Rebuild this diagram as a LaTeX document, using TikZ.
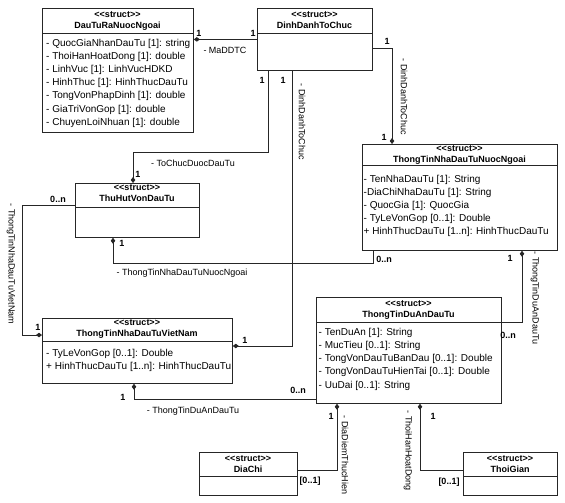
\documentclass[tikz,border=0pt]{standalone}
\usepackage{fontspec}
\setmainfont{Liberation Sans}
\usetikzlibrary{arrows.meta}
\newcommand\stereo{<\kern0pt<struct>\kern0pt>}
\tikzset{
 box/.style={draw=black!85, line width=0.8pt, anchor=north west, inner sep=0pt},
 sep/.style={draw=black!85, line width=0.8pt},
 hdr/.style={font=\bfseries\fontsize{9}{11}\selectfont, align=center, anchor=base, inner sep=0pt},
 attr/.style={font=\fontsize{10}{13.2}\selectfont, align=left, anchor=base west, inner sep=0pt},
 lbl/.style={font=\fontsize{9}{10}\selectfont, inner sep=0pt},
 mult/.style={font=\bfseries\fontsize{9}{10}\selectfont, inner sep=0pt},
 comp/.style={draw=black!85, line width=0.8pt, -{Diamond[length=6pt,width=4.5pt]}},
}
\begin{document}
\begin{tikzpicture}[x=1pt,y=-1pt]
\useasboundingbox (0,0) rectangle (565,503);
% ---------- classes (attribute nodes anchored at the baseline of their last line)
\node[box, minimum width=151pt, minimum height=124pt] (dtr) at (42,8) {};
\draw[sep] ([yshift=-25pt]dtr.north west) -- ([yshift=-25pt]dtr.north east);
\node[hdr] (dtrh) at (117.5,28.3) {\stereo\\DauTuRaNuocNgoai};
\node[attr] (dtra) at (46,125.2) {- QuocGiaNhanDauTu [1]: string\\- ThoiHanHoatDong [1]: double\\- LinhVuc [1]: LinhVucHDKD\\- HinhThuc [1]: HinhThucDauTu\\- TongVonPhapDinh [1]: double\\- GiaTriVonGop [1]: double\\- ChuyenLoiNhuan [1]: double};

\node[box, minimum width=115pt, minimum height=62pt] (dd) at (257,8) {};
\draw[sep] ([yshift=-25pt]dd.north west) -- ([yshift=-25pt]dd.north east);
\node[hdr] (ddh) at (314.5,28.3) {\stereo\\DinhDanhToChuc};

\node[box, minimum width=195pt, minimum height=106pt] (nn) at (362,144) {};
\draw[sep] ([yshift=-21pt]nn.north west) -- ([yshift=-21pt]nn.north east);
\node[hdr] (nnh) at (459.5,162.3) {\stereo\\ThongTinNhaDauTuNuocNgoai};
\node[attr] (nna) at (363.5,234.8) {- TenNhaDauTu [1]: String\\-DiaChiNhaDauTu [1]: String\\- QuocGia [1]: QuocGia\\- TyLeVonGop [0..1]: Double\\+ HinhThucDauTu [1..n]: HinhThucDauTu};

\node[box, minimum width=124pt, minimum height=54pt] (thv) at (75,183) {};
\draw[sep] ([yshift=-24pt]thv.north west) -- ([yshift=-24pt]thv.north east);
\node[hdr] (thvh) at (137,201.3) {\stereo\\ThuHutVonDauTu};

\node[box, minimum width=190pt, minimum height=65pt] (vn) at (42,318) {};
\draw[sep] ([yshift=-23pt]vn.north west) -- ([yshift=-23pt]vn.north east);
\node[hdr] (vnh) at (137,336.3) {\stereo\\ThongTinNhaDauTuVietNam};
\node[attr] (vna) at (46,369.3) {- TyLeVonGop [0..1]: Double\\+ HinhThucDauTu [1..n]: HinhThucDauTu};

\node[box, minimum width=185pt, minimum height=106pt] (da) at (316,297) {};
\draw[sep] ([yshift=-25pt]da.north west) -- ([yshift=-25pt]da.north east);
\node[hdr] (dah) at (408.5,317.3) {\stereo\\ThongTinDuAnDauTu};
\node[attr] (daa) at (318.5,388) {- TenDuAn [1]: String\\- MucTieu [0..1]: String\\- TongVonDauTuBanDau [0..1]: Double\\- TongVonDauTuHienTai [0..1]: Double\\- UuDai [0..1]: String};

\node[box, minimum width=98pt, minimum height=43pt] (dc) at (199,452) {};
\draw[sep] ([yshift=-24pt]dc.north west) -- ([yshift=-24pt]dc.north east);
\node[hdr] (dch) at (248,472.3) {\stereo\\DiaChi};

\node[box, minimum width=94pt, minimum height=43pt] (tg) at (463,452) {};
\draw[sep] ([yshift=-24pt]tg.north west) -- ([yshift=-24pt]tg.north east);
\node[hdr] (tgh) at (510,472.3) {\stereo\\ThoiGian};

% ---------- connectors
\draw[comp] (dd.west) -- (dd.west -| dtr.east);
\node[mult] (m1) at (199,33) {1};
\node[mult] (m2) at (253,33) {1};
\node[lbl] (l1) at (225,50) {- MaDDTC};

\draw[comp] ([yshift=-9pt]dd.east) -| ([xshift=30pt]nn.north west);
\node[mult] (m3) at (387,41) {1};
\node[mult] (m4) at (384,137) {1};
\node[lbl, rotate=-90] (l2) at (404,97) {- DinhDanhToChuc};

\draw[comp] ([xshift=11pt]dd.south west) -- ++(0,82) -| ([xshift=58pt]thv.north west);
\node[mult] (m5) at (262,80) {1};
\node[mult] (m6) at (138,174) {1};
\node[lbl] (l3) at (193,163) {- ToChucDuocDauTu};

\draw[comp] ([xshift=35pt]dd.south west) |- ([yshift=-28pt]vn.north east);
\node[mult] (m7) at (283,80) {1};
\node[mult] (m8) at (245,340) {1};
\node[lbl, rotate=-90] (l4) at (302,122) {- DinhDanhToChuc};

\draw[comp] ([yshift=5pt]thv.west) -- ++(-53,0) |- ([yshift=-17pt]vn.north west);
\node[mult] (m9) at (58,199) {0..n};
\node[mult] (m10) at (38,327) {1};
\node[lbl, rotate=-90] (l5) at (11,264) {- ThongTinNhaDauTuVietNam};

\draw[comp] ([xshift=11pt]nn.south west) -- ++(0,13) -| ([xshift=38pt]thv.south west);
\node[mult] (m11) at (384,259) {0..n};
\node[mult] (m12) at (122,243) {1};
\node[lbl] (l6) at (182,273) {- ThongTinNhaDauTuNuocNgoai};

\draw[comp] ([yshift=-25pt]da.north east) -| ([xshift=160pt]nn.south west);
\node[mult] (m13) at (510,258) {1};
\node[mult] (m14) at (508,335) {0..n};
\node[lbl, rotate=-90] (l7) at (535,298) {- ThongTinDuAnDauTu};

\draw[comp] ([yshift=-102pt]da.north west) -| ([xshift=92pt]vn.south west);
\node[mult] (m15) at (123,397) {1};
\node[mult] (m16) at (298,390) {0..n};
\node[lbl] (l8) at (193,411) {- ThongTinDuAnDauTu};

\draw[comp] ([yshift=-18pt]dc.north east) -| ([xshift=21pt]da.south west);
\node[mult] (m17) at (331,416) {1};
\node[mult] (m18) at (310,481) {[0..1]};
\node[lbl, rotate=-90] (l9) at (345,455) {- DiaDiemThucHien};

\draw[comp] ([yshift=-18pt]tg.north west) -| ([xshift=104pt]da.south west);
\node[mult] (m19) at (433,416) {1};
\node[mult] (m20) at (449,482) {[0..1]};
\node[lbl, rotate=-90] (l10) at (408,451) {- ThoiHanHoatDong};
\end{tikzpicture}
\end{document}
